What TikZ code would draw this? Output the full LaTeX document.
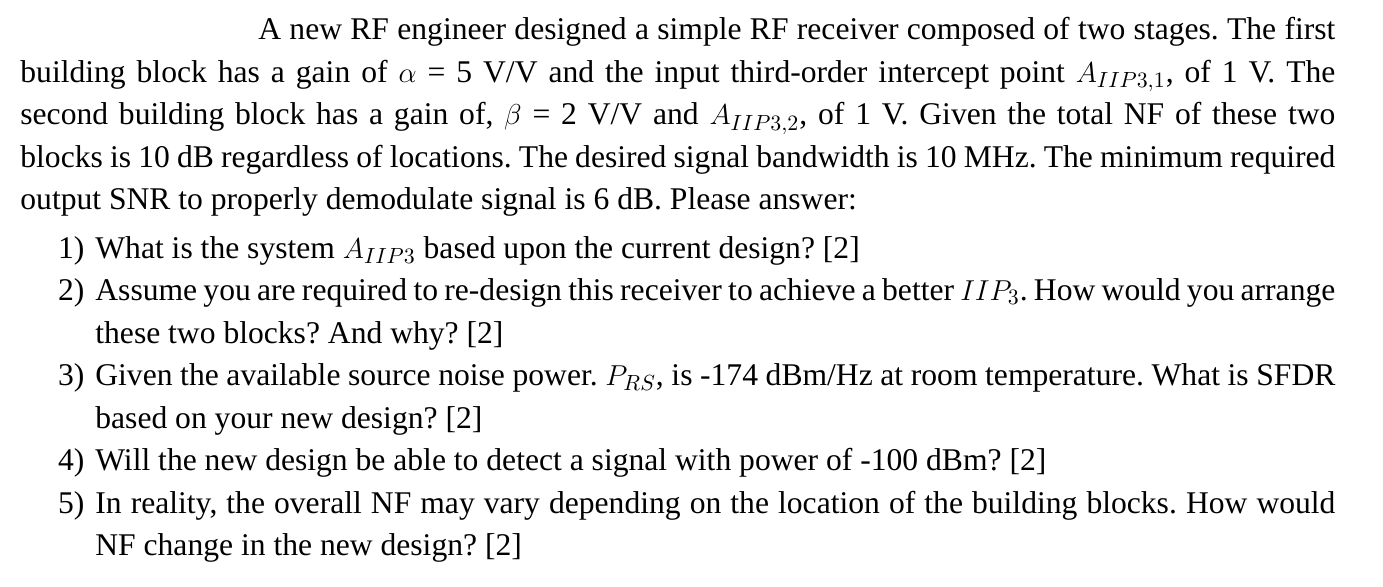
\documentclass[tikz,border=0pt]{standalone}
\usepackage{fontspec}
\setmainfont{Liberation Serif}
\begin{document}
\begin{tikzpicture}[x=1pt,y=1pt]
\useasboundingbox (0,0) rectangle (691.5,293.5);
\tikzset{para/.style={anchor=base west,inner sep=0pt,text width=657.5pt,align=justify,font=\fontsize{15.8}{21.25}\selectfont}}
\node[para] (body) at (10,273.5) {%
\begin{minipage}[t]{657.5pt}\fontsize{15.8}{21.25}\selectfont\frenchspacing
\hyphenpenalty=10000 \exhyphenpenalty=10000 \emergencystretch=20pt
\hspace*{119pt}A new RF engineer designed a simple RF receiver composed of two stages. The first\linebreak
building block has a gain of $\alpha$ = 5 V/V and the input third-order intercept point $A_{IIP3,1}$, of 1 V. The\linebreak
second building block has a gain of, $\beta$ = 2 V/V and $A_{IIP3,2}$, of 1 V. Given the total NF of these two\linebreak
blocks is 10 dB regardless of locations. The desired signal bandwidth is 10 MHz. The minimum required\linebreak
output SNR to properly demodulate signal is 6 dB. Please answer:\par
\vspace{2.8pt}
\leftskip=37.5pt
\def\itm#1{\par\noindent\hspace*{-37.5pt}\makebox[32pt][r]{#1)}\hspace{5.5pt}}
\itm{1}What is the system $A_{IIP3}$ based upon the current design? [2]
\itm{2}Assume you are required to re-design this receiver to achieve a better $IIP_3$. How would you arrange\linebreak
these two blocks? And why? [2]
\itm{3}Given the available source noise power. $P_{RS}$, is \mbox{-174} dBm/Hz at room temperature. What is SFDR\linebreak
based on your new design? [2]
\itm{4}Will the new design be able to detect a signal with power of \mbox{-100} dBm? [2]
\itm{5}In reality, the overall NF may vary depending on the location of the building blocks. How would\linebreak
NF change in the new design? [2]\par
\end{minipage}};
\end{tikzpicture}
\end{document}
